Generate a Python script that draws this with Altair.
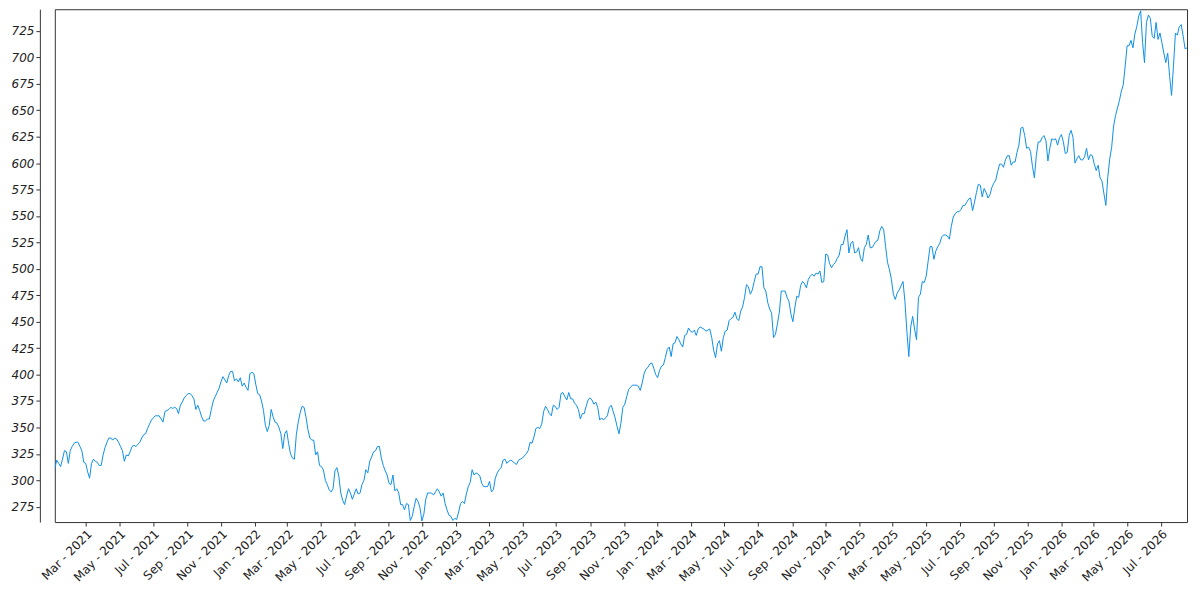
import altair as alt
import pandas as pd

# Values: one at the start of each week (from 2021-01-04)
# and one in the middle of each week.
start_date = "2021-01-04"
week_start_values = [
    311, 316, 320, 327, 328, 335, 336, 328, 316, 302,
    320, 317, 314, 331, 340, 338, 339, 332, 318, 323,
    332, 332, 336, 343, 349, 357, 361, 361, 355, 366,
    369, 369, 363, 374, 380, 382, 377, 371, 360, 356,
    358, 375, 383, 393, 395, 399, 403, 396, 397, 392,
    385, 402, 391, 381, 366, 346, 367, 355, 350, 330,
    347, 325, 320, 355, 370, 360, 340, 338, 327, 313,
    300, 291, 292, 312, 288, 277, 292, 282, 292, 288,
    300, 307, 322, 328, 332, 314, 305, 296, 290, 288,
    277, 278, 262, 275, 280, 261.5, 282, 288, 286, 292,
    285, 278, 267, 262, 263, 278, 278, 294, 310, 307,
    304, 294, 294, 289, 302, 310, 319, 316, 319, 316,
    319, 321, 325, 336, 341, 350, 353, 370, 363, 371,
    367, 382, 379, 383, 377, 371, 358, 363, 376, 376,
    374, 357, 357, 361, 371, 359, 344, 369, 379, 388,
    390, 389, 392, 405, 410, 406, 397, 408, 416, 426,
    429, 436, 429, 437, 444, 440, 437, 445, 443, 442,
    435, 416, 432, 435, 442, 453, 459, 451, 464, 485,
    476, 488, 495, 502, 479, 462, 435, 448, 479, 479,
    469, 450, 474, 484, 486, 490, 495, 496, 498, 488,
    513, 501, 506, 513, 523, 537, 524, 515, 520, 507,
    523, 520, 523, 527, 540, 521, 499, 476, 477, 484,
    469, 417, 455, 433, 476, 487, 507, 521, 517, 524,
    532, 531, 540, 552, 554, 560, 563, 567, 563, 580,
    568, 572, 570, 581, 592, 599, 603, 607, 601, 610,
    633, 626, 615, 597, 607, 620, 626, 602, 623, 623,
    624, 620, 610, 631, 600, 607, 603, 614, 608, 599,
    598, 583, 560, 604, 635, 652, 668, 692, 711, 709,
    729, 744, 695, 740, 720, 733, 723, 704, 704, 664,
    723, 729, 720, 709,
]
mid_week_values = [
    319, 313, 328, 316, 332, 336, 332, 317, 308, 316,
    318, 314, 324, 336, 340, 340, 336, 328, 324, 327,
    333, 334, 340, 344, 353, 359, 361, 358, 365, 367,
    368, 368, 371, 378, 382, 380, 367, 366, 356, 358,
    367, 379, 387, 398, 392, 403, 394, 393, 389, 388,
    401, 401, 382, 375, 352, 352, 360, 354, 344, 344,
    335, 321, 343, 364, 369, 348, 338, 324, 314, 310,
    296, 289, 309, 304, 281, 285, 288, 287, 287, 296,
    310, 318, 327, 332, 321, 309, 297, 305, 292, 277,
    272, 277, 266, 283, 274, 268, 288, 288, 289, 289,
    288, 272, 266, 264, 270, 280, 287, 298, 305, 306,
    297, 294, 299, 291, 307, 312, 320, 318, 318, 315,
    320, 323, 328, 335, 349, 349, 365, 367, 361, 370,
    369, 383, 376, 377, 373, 367, 363, 370, 378, 372,
    369, 359, 359, 369, 365, 351, 354, 372, 386, 390,
    390, 385, 401, 407, 411, 400, 404, 409, 424, 417,
    430, 433, 426, 438, 441, 442, 443, 444, 441, 443,
    423, 429, 422, 441, 451, 454, 453, 460, 473, 483,
    480, 495, 502, 482, 468, 458, 438, 459, 479, 473,
    457, 463, 473, 488, 482, 493, 493, 495, 487, 514,
    505, 504, 510, 523, 531, 515, 526, 516, 510, 520,
    532, 520, 526, 536, 537, 506, 490, 471, 480, 488,
    441, 445, 443, 473, 488, 493, 521, 509, 521, 530,
    532, 528, 549, 554, 556, 560, 566, 555, 572, 579,
    576, 567, 577, 584, 599, 596, 607, 598, 601, 617,
    634, 614, 611, 586, 620, 624, 621, 614, 622, 617,
    627, 609, 626, 624, 604, 603, 606, 603, 607, 593,
    586, 571, 587, 615, 645, 659, 674, 711, 716, 722,
    739, 714, 733, 737, 718, 717, 714, 695, 682, 692,
    721, 731, 708,
]

y_ticks = [275, 300, 325, 350, 375, 400, 425, 450, 475, 500,
           525, 550, 575, 600, 625, 650, 675, 700, 725]
x_tick_months = [
    "2021-03", "2021-05", "2021-07", "2021-09", "2021-11",
    "2022-01", "2022-03", "2022-05", "2022-07", "2022-09", "2022-11",
    "2023-01", "2023-03", "2023-05", "2023-07", "2023-09", "2023-11",
    "2024-01", "2024-03", "2024-05", "2024-07", "2024-09", "2024-11",
    "2025-01", "2025-03", "2025-05", "2025-07", "2025-09", "2025-11",
    "2026-01", "2026-03", "2026-05", "2026-07",
]
y_domain = [260.5, 745.5]

# interleave week-start and mid-week readings (half-week spacing)
series = []
for i, w in enumerate(week_start_values):
    series.append(w)
    if i < len(mid_week_values):
        series.append(mid_week_values[i])

dates = pd.date_range(start_date, periods=len(series), freq="84h")
df = pd.DataFrame({"date": dates, "value": series})

x_tick_values = [
    alt.DateTime(year=int(m[:4]), month=int(m[5:]), date=1) for m in x_tick_months
]

chart = (
    alt.Chart(df)
    .mark_line(color="#0d8fe6", strokeWidth=1, clip=True)
    .encode(
        x=alt.X(
            "date:T",
            title=None,
            scale=alt.Scale(nice=False),
            axis=alt.Axis(
                values=x_tick_values,
                format="%b - %Y",
                labelAngle=-45,
                labelAlign="right",
                labelBaseline="top",
                labelFontSize=12,
                labelColor="#222222",
                labelFont="DejaVu Sans",
                labelPadding=2,
                tickSize=4,
                tickColor="#333333",
                domain=False,
                grid=False,
                labelOverlap=False,
                labelFlush=False,
            ),
        ),
        y=alt.Y(
            "value:Q",
            title=None,
            scale=alt.Scale(domain=y_domain, nice=False, zero=False),
            axis=alt.Axis(
                values=y_ticks,
                offset=15,
                labelFontSize=12,
                labelFontStyle="italic",
                labelFont="DejaVu Sans",
                labelColor="#222222",
                labelPadding=2,
                tickSize=4,
                tickColor="#333333",
                domainColor="#333333",
                grid=False,
                labelOverlap=False,
                labelFlush=False,
            ),
        ),
    )
    .properties(
        width=1137,
        height=515,
        padding={"left": 3, "top": 0, "right": 5, "bottom": 5},
    )
    .configure(background="white")
    .configure_view(stroke="#333333", strokeWidth=1)
)

chart.save("out.html", embed_options={"renderer": "svg", "actions": False})
